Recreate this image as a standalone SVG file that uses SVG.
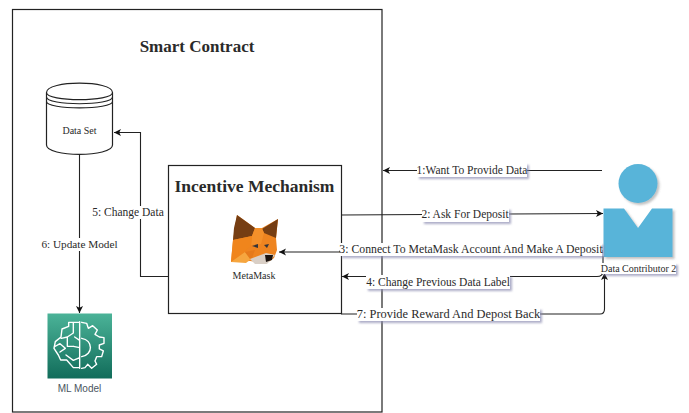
<svg xmlns="http://www.w3.org/2000/svg" width="689" height="413" viewBox="0 0 689 413">
<defs>
<style>
text{font-family:"Liberation Serif","Times New Roman",serif;fill:#2a2a2a;text-anchor:middle}
.box{fill:#fff;stroke:#222;stroke-width:1.2}
.ln{fill:none;stroke:#222;stroke-width:1.1}
.lb{font-size:11.500px}
.sm{font-size:10px}
.tt{font-size:17px;font-weight:bold}
.bg{fill:#fff}
.sh{fill:#fff;filter:url(#s)}
.ic{fill:none;stroke:#fff;stroke-width:4.200;stroke-linejoin:round;stroke-linecap:round}
</style>
<marker id="a" markerUnits="userSpaceOnUse" markerWidth="8" markerHeight="8" refX="7" refY="4" orient="auto"><path d="M0 0.500L7 4L0 7.500L1.800 4Z" fill="#111"/></marker>
<filter id="s" x="-10%" y="-30%" width="120%" height="170%"><feDropShadow dx="2" dy="2" stdDeviation="1" flood-color="#8a8ab0" flood-opacity=".7"/></filter>
<filter id="p" x="-10%" y="-10%" width="125%" height="125%"><feDropShadow dx="2" dy="2" stdDeviation="1" flood-color="#666" flood-opacity=".4"/></filter>
<linearGradient id="g" x1="0" y1="0" x2="0" y2="1"><stop offset="0" stop-color="#4bb398"/><stop offset="1" stop-color="#116c5a"/></linearGradient>
</defs>
<rect width="689" height="413" fill="#fff"/>
<g id="smart-contract"><rect class="box" x="12.500" y="9.500" width="369.500" height="402.500"/><text class="tt" x="197" y="51.500">Smart Contract</text></g>
<g id="incentive-mechanism"><rect class="box" x="168.500" y="165.500" width="173" height="148"/><text class="tt" x="254.500" y="191.500" style="font-size:17.500px">Incentive Mechanism</text></g>
<g id="connectors">
<path class="ln" d="M168 276.500H140.500V132.500H114" marker-end="url(#a)"/>
<path class="ln" d="M79.500 154V313" marker-end="url(#a)"/>
<path class="ln" d="M602 170.500H383" marker-end="url(#a)"/>
<path class="ln" d="M341 215L603 213.500" marker-end="url(#a)"/>
<path class="ln" d="M603 251H340V252H279" marker-end="url(#a)"/>
<path class="ln" d="M603 256V271Q603 276.500 597 276.500H342" marker-end="url(#a)"/>
<path class="ln" d="M341 314H600Q604.500 314 604.500 309V273" marker-end="url(#a)"/>
</g>
<g id="data-set">
<path class="box" d="M46.500 92.500C46.500 80 112.500 80 112.500 92.500V145C112.500 157.500 46.500 157.500 46.500 145Z"/>
<path class="ln" d="M46.500 92.500C46.500 102 112.500 102 112.500 92.500M46.500 97C46.500 106 112.500 106 112.500 97M46.500 101.500C46.500 110 112.500 110 112.500 101.500"/>
<text class="sm" x="79.500" y="134">Data Set</text>
</g>
<g id="metamask">
<path d="M237 215L255 228H262L278 219L276 238L277 250L274 258L267 263L250 261L231 262L233 240Z" fill="#ee8420"/>
<path d="M237 215L255 228L252 236L233 240L234 228Z" fill="#763e13"/>
<path d="M278 219L262 229L264 233L276 238L277 228Z" fill="#763e13"/>
<path d="M255 228H262L264 233L261 244L251 245L252 236Z" fill="#f4902a"/>
<path d="M233 240L252 236L251 245L245 252L231 262Z" fill="#f0851c"/>
<path d="M231 262L245 252L251 259L246 263Z" fill="#f6a63f"/>
<path d="M245 252L255 250L252 258L250 259Z" fill="#e57a1c"/>
<path d="M250 259L266 253L275 255L267 264L255 264Z" fill="#d9cfc6"/>
<path d="M265 255L273 255L272 260L266 262Z" fill="#1c1410"/>
<path d="M252 246L258 244L258 248ZM264 245L269 244L267 248Z" fill="#33343a"/>
<text class="sm" x="254" y="278.500">MetaMask</text>
</g>
<g id="ml-model">
<rect x="47.500" y="313.500" width="64.500" height="65" fill="url(#g)"/>
<g transform="translate(40 305) scale(.3333)">
<path class="ic" d="M119 50V190M119 52H86V64L66 72L63 96L46 110L42 130L55 150L62 165H80L100 188H119M100 52V84L82 96L64 100M82 96V124H100M42 126L60 116L76 130L60 141M78 150L100 166L119 158M119 106L104 96M100 124L119 128"/>
<path class="ic" d="M125 52L140 55L145 70L158 62L172 75L165 88L178 96L192 98V115L178 120V132L190 138L185 155L170 155L165 168L170 178L155 190L143 178L135 188L125 190M125 100C160 105 160 150 125 155"/>
</g>
<text class="sm" x="79.500" y="392" style="font-family:'Liberation Sans',Arial,sans-serif;fill:#4a5560">ML Model</text>
</g>
<g id="data-contributor-2">
<g filter="url(#p)"><circle cx="638" cy="183.500" r="19.500" fill="#59b4d9"/><path d="M603.500 208.500H624L638 228L652 208.500H672.500V257H603.500Z" fill="#59b4d9"/></g>
<rect class="sh" x="602" y="263" width="74" height="11"/>
<text class="sm" x="638.500" y="272">Data Contributor 2</text>
</g>
<g id="labels" class="lb">
<rect class="bg" x="92" y="206" width="72" height="13"/><text x="128" y="216">5: Change Data</text>
<rect class="bg" x="43" y="238" width="73" height="13"/><text x="79.500" y="248" style="font-size:11.250px">6: Update Model</text>
<rect class="sh" x="417" y="163" width="110" height="14"/><text x="472" y="173.500">1:Want To Provide Data</text>
<rect class="sh" x="422" y="208" width="87" height="14"/><text x="465" y="218">2: Ask For Deposit</text>
<rect class="sh" x="340" y="243" width="262" height="13"/><text x="471" y="253" style="font-size:11.750px">3: Connect To MetaMask Account And Make A Deposit</text>
<rect class="sh" x="366" y="275" width="144" height="14"/><text x="438" y="285.500">4: Change Previous Data Label</text>
<rect class="sh" x="357" y="308" width="183" height="13"/><text x="448.500" y="318" style="font-size:12.400px">7: Provide Reward And Depost Back</text>
</g>
</svg>
